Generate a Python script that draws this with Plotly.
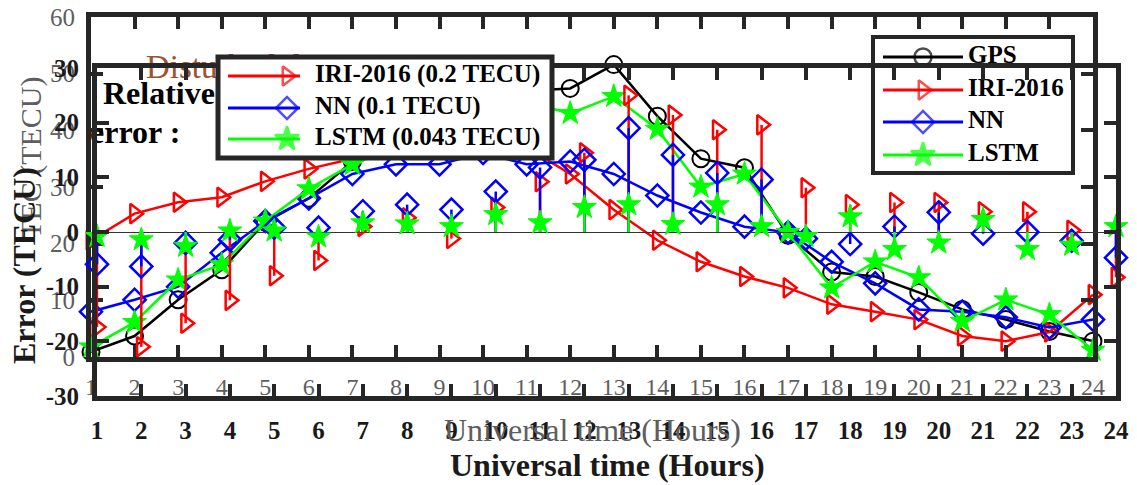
import plotly.graph_objects as go

# ---------------- data ----------------
hours = list(range(1, 25))
hour_labels = [str(h) for h in hours]

# background panel: TEC (TECU)
tec_gps = [0.9, 3.7, 10.1, 15.4, 23.8, 28.0, 34.5, 38.5, 42.0, 45.0, 47.0, 47.4,
           51.6, 42.5, 35.0, 33.4, 21.5, 15.0, 14.2, 11.4, 8.4, 6.6, 4.5, 2.8]
tec_iri = [20.6, 25.3, 27.3, 28.2, 31.0, 33.2, 35.0, 37.0, 38.0, 38.0, 37.0, 32.3,
           26.0, 20.6, 16.8, 14.2, 12.2, 9.3, 8.0, 6.6, 3.7, 2.8, 4.4, 11.0]
tec_nn = [8.0, 10.1, 12.4, 18.4, 24.0, 28.0, 32.3, 34.0, 34.0, 36.0, 34.0, 34.5,
          32.3, 28.5, 25.5, 23.0, 22.0, 16.8, 13.0, 8.4, 8.0, 7.0, 5.2, 6.6]
tec_lstm = [1.8, 6.1, 13.6, 16.3, 24.0, 29.7, 34.0, 37.0, 40.0, 42.0, 45.0, 43.0,
            46.0, 40.2, 30.0, 32.3, 22.0, 12.2, 16.8, 14.0, 6.3, 10.1, 7.5, 1.2]

# foreground panel: Error (TECU), stem plot
err_iri = [-17.4, -21.0, -16.7, -12.5, -8.0, -5.2, 1.0, 2.6, -1.2, 4.5, 9.2, 14.5,
           25.0, 21.4, 18.7, 19.6, 8.1, 5.0, 5.4, 5.4, 3.7, 3.7, 0.3, -8.3]
err_nn = [-5.9, -6.3, -2.0, -1.4, 0.8, 0.8, 3.8, 5.0, 4.1, 7.4, 11.8, 13.2,
          19.0, 14.1, 10.8, 9.6, -1.2, -2.2, 1.0, 3.6, -0.3, 0.0, -1.6, -4.7]
err_lstm = [-0.8, -1.4, -2.6, 0.2, 0.2, -0.9, 1.7, 1.5, 1.0, 3.2, 1.7, 4.5,
            5.0, 1.4, 5.0, 1.0, -0.8, 2.8, -3.2, -2.0, 2.3, -3.2, -2.4, 1.0]

tec_ticks = [0, 10, 20, 30, 40, 50, 60]
tec_tick_labels = ['0', '10', '20', '30', '40', '50', '60']
err_ticks = [-30, -20, -10, 0, 10, 20, 30]
err_tick_labels = ['-30', '-20', '-10', '0', '10', '20', '30']

legend_a_labels = ['GPS', 'IRI-2016', 'NN', 'LSTM']
legend_b_labels = ['IRI-2016 (0.2 TECU)', 'NN (0.1 TECU)', 'LSTM (0.043 TECU)']

x_title = 'Universal time (Hours)'
tec_title = 'TEC (TECU)'
err_title = 'Error (TECU)'
panel_title = 'Disturbed day'
note_lines = ['Relative', 'error :']

# ---------------- styles ----------------
W, H = 1137, 485
FONT = 'Liberation Serif'
FRAME = '#262626'
GRAY = '#5e5e5e'
DARK = '#1a1a1a'
RED, BLUE, GREEN, BLACK = '#FF0000', '#0000FF', '#00FF00', '#000000'
BROWN = '#A0522D'


def fx(px):
    return px / W


def fy(py):
    return 1 - py / H


sym = {
    'GPS': dict(symbol='circle-open', size=17, color=BLACK, line=dict(width=2, color=BLACK)),
    'IRI': dict(symbol='triangle-right-open', size=17, color=RED, line=dict(width=2.5, color=RED)),
    'NN': dict(symbol='diamond-open', size=17, color=BLUE, line=dict(width=2.5, color=BLUE)),
    'LSTM': dict(symbol='star', size=18, color=GREEN, line=dict(width=1, color=GREEN)),
}
colors = {'GPS': BLACK, 'IRI': RED, 'NN': BLUE, 'LSTM': GREEN}

fig = go.Figure()

# ---- subplot 1: TEC panel (background) ----
for key, vals in [('GPS', tec_gps), ('IRI', tec_iri), ('NN', tec_nn), ('LSTM', tec_lstm)]:
    fig.add_trace(go.Scatter(x=hours, y=vals, mode='lines+markers', xaxis='x', yaxis='y',
                             line=dict(color=colors[key], width=2.5), marker=sym[key],
                             cliponaxis=False, showlegend=False, hoverinfo='skip'))

# ---- subplot 2: decorations of the TEC panel (legend, title, note) ----
legA_rows = [57, 90, 122, 155]
legA_keys = ['GPS', 'IRI', 'NN', 'LSTM']
shapes = []
shapes.append(dict(type='rect', xref='x2', yref='y2', x0=873, x1=1073, y0=37, y1=173,
                   fillcolor='white', line=dict(color=FRAME, width=4), layer='below'))
for k, yy in zip(legA_keys, legA_rows):
    shapes.append(dict(type='line', xref='x2', yref='y2', x0=883, x1=963, y0=yy, y1=yy,
                       line=dict(color=colors[k], width=3), layer='below'))
fig.add_trace(go.Scatter(x=[923] * 4, y=legA_rows, mode='markers', xaxis='x2', yaxis='y2',
                         marker=dict(symbol=[sym[k]['symbol'] for k in legA_keys],
                                     size=[sym[k]['size'] for k in legA_keys],
                                     color=[colors[k] for k in legA_keys],
                                     line=dict(width=2.5, color=[colors[k] for k in legA_keys])),
                         showlegend=False, hoverinfo='skip'))
fig.add_trace(go.Scatter(x=[968] * 4, y=legA_rows, mode='text', xaxis='x2', yaxis='y2',
                         text=legend_a_labels, textposition='middle right',
                         textfont=dict(family=FONT, size=25, color=BLACK, weight='bold'),
                         showlegend=False, hoverinfo='skip'))
fig.add_trace(go.Scatter(x=[146], y=[70], mode='text', xaxis='x2', yaxis='y2',
                         text=[panel_title], textposition='middle right',
                         textfont=dict(family=FONT, size=33, color=BROWN),
                         showlegend=False, hoverinfo='skip'))
fig.add_trace(go.Scatter(x=[103, 90], y=[96, 135], mode='text', xaxis='x2', yaxis='y2',
                         text=note_lines, textposition='middle right',
                         textfont=dict(family=FONT, size=32, color=BLACK, weight='bold'),
                         showlegend=False, hoverinfo='skip'))


# ---- subplot 3: Error stem panel (foreground) ----
def stems(vals):
    xs, ys = [], []
    for h, v in zip(hours, vals):
        xs += [h, h, None]
        ys += [0, v, None]
    return xs, ys


for key, vals in [('IRI', err_iri), ('NN', err_nn), ('LSTM', err_lstm)]:
    sx, sy = stems(vals)
    fig.add_trace(go.Scatter(x=sx, y=sy, mode='lines', xaxis='x3', yaxis='y3',
                             line=dict(color=colors[key], width=2.5),
                             showlegend=False, hoverinfo='skip'))
    fig.add_trace(go.Scatter(x=hours, y=vals, mode='markers', xaxis='x3', yaxis='y3',
                             marker=sym[key], cliponaxis=False,
                             showlegend=False, hoverinfo='skip'))

# ---- subplot 4: legend of the Error panel ----
legB_rows = [76, 108, 139]
legB_keys = ['IRI', 'NN', 'LSTM']
shapes.append(dict(type='rect', xref='x4', yref='y4', x0=218, x1=552, y0=57, y1=158,
                   fillcolor='white', line=dict(color=FRAME, width=5), layer='below'))
for k, yy in zip(legB_keys, legB_rows):
    shapes.append(dict(type='line', xref='x4', yref='y4', x0=228, x1=300, y0=yy, y1=yy,
                       line=dict(color=colors[k], width=3), layer='below'))
fig.add_trace(go.Scatter(x=[287] * 3, y=legB_rows, mode='markers', xaxis='x4', yaxis='y4',
                         marker=dict(symbol=[sym[k]['symbol'] for k in legB_keys],
                                     size=[sym[k]['size'] for k in legB_keys],
                                     color=[colors[k] for k in legB_keys],
                                     line=dict(width=2.5, color=[colors[k] for k in legB_keys])),
                         showlegend=False, hoverinfo='skip'))
fig.add_trace(go.Scatter(x=[315] * 3, y=legB_rows, mode='text', xaxis='x4', yaxis='y4',
                         text=legend_b_labels, textposition='middle right',
                         textfont=dict(family=FONT, size=25, color=BLACK, weight='bold'),
                         showlegend=False, hoverinfo='skip'))

axis_common = dict(showgrid=False, ticks='inside', ticklen=12, tickwidth=4, tickcolor=FRAME,
                   showline=True, linewidth=5, linecolor=FRAME, mirror='ticks', fixedrange=True,
                   automargin=False)
decor = dict(visible=False, fixedrange=True)

fig.update_layout(
    width=W, height=H, margin=dict(l=0, r=0, t=0, b=0, pad=0, autoexpand=False),
    paper_bgcolor='white', plot_bgcolor='rgba(0,0,0,0)', showlegend=False,
    xaxis=dict(domain=[fx(91), fx(1093)], range=[1, 24], anchor='y',
               tickvals=hours, ticktext=hour_labels, zeroline=False, ticklabelstandoff=4,
               tickfont=dict(family=FONT, size=24, color=GRAY), **axis_common),
    yaxis=dict(domain=[fy(357), fy(17)], range=[0, 60], anchor='x',
               tickvals=tec_ticks, ticktext=tec_tick_labels, zeroline=False, ticklabelstandoff=6,
               tickfont=dict(family=FONT, size=25, color=GRAY), **axis_common),
    xaxis2=dict(domain=[0, 1], range=[0, W], anchor='y2', **decor),
    yaxis2=dict(domain=[0, 1], range=[H, 0], anchor='x2', **decor),
    xaxis3=dict(domain=[fx(97), fx(1116)], range=[1, 24], anchor='y3',
                tickvals=hours, ticktext=hour_labels, zeroline=False, ticklabelstandoff=8,
                tickfont=dict(family=FONT, size=25, color=DARK, weight='bold'), **axis_common),
    yaxis3=dict(domain=[fy(396), fy(68)], range=[-30, 30], anchor='x3',
                tickvals=err_ticks, ticktext=err_tick_labels, ticklabelstandoff=8,
                zeroline=True, zerolinewidth=1, zerolinecolor='#333333',
                tickfont=dict(family=FONT, size=25, color=DARK, weight='bold'), **axis_common),
    xaxis4=dict(domain=[0, 1], range=[0, W], anchor='y4', **decor),
    yaxis4=dict(domain=[0, 1], range=[H, 0], anchor='x4', **decor),
    shapes=shapes,
    annotations=[
        dict(text=x_title, xref='paper', yref='paper', x=fx(592), y=fy(430), showarrow=False,
             xanchor='center', yanchor='middle', font=dict(family=FONT, size=32, color=GRAY)),
        dict(text=x_title, xref='paper', yref='paper', x=fx(607), y=fy(465), showarrow=False,
             xanchor='center', yanchor='middle',
             font=dict(family=FONT, size=32, color=DARK, weight='bold')),
        dict(text=tec_title, xref='paper', yref='paper', x=fx(31), y=fy(158), showarrow=False,
             textangle=-90, xanchor='center', yanchor='middle',
             font=dict(family=FONT, size=30, color=GRAY)),
        dict(text=err_title, xref='paper', yref='paper', x=fx(24), y=fy(266), showarrow=False,
             textangle=-90, xanchor='center', yanchor='middle',
             font=dict(family=FONT, size=32, color=DARK, weight='bold')),
    ],
)

fig.write_html('out.html')
